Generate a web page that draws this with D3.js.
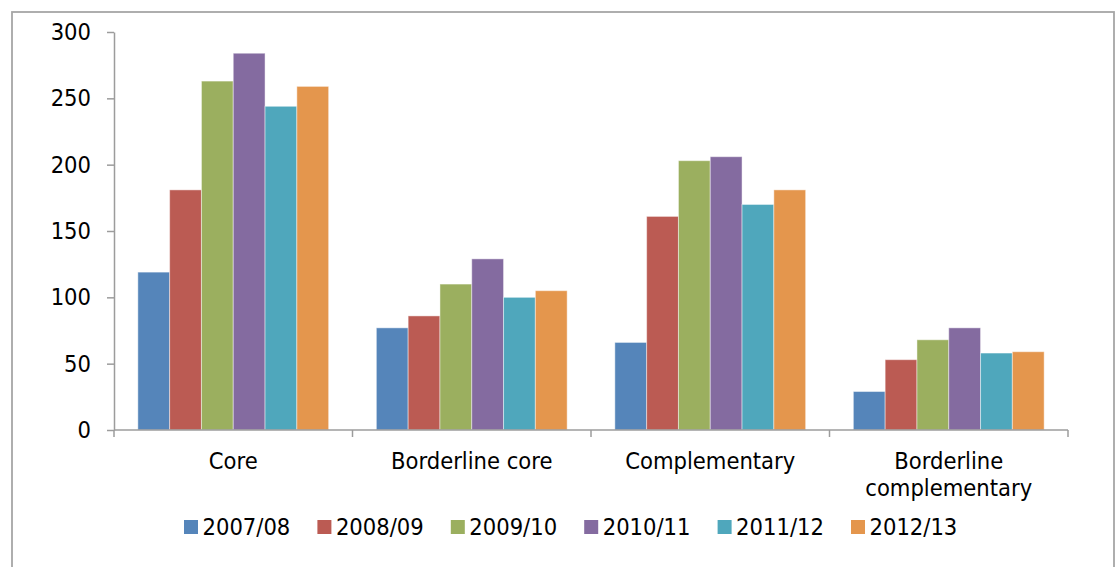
<!DOCTYPE html>
<html>
<head>
<meta charset="utf-8">
<script src="https://cdn.jsdelivr.net/npm/d3@7"></script>
<style>
  body { margin: 0; background: #fff; }
  svg { display: block; font-family: "DejaVu Sans Condensed", "DejaVu Sans", sans-serif; font-stretch: condensed; }
</style>
</head>
<body>
<svg id="chart" width="1120" height="567"></svg>
<script>
const categories = ["Core", "Borderline core", "Complementary", "Borderline complementary"];
const series = ["2007/08", "2008/09", "2009/10", "2010/11", "2011/12", "2012/13"];
const colors = ["#5585ba", "#bb5b53", "#9baf5f", "#846ba0", "#4fa7bc", "#e4964d"];

// one array per season, values in category order
const v0708 = [119, 77, 66, 29];
const v0809 = [181, 86, 161, 53];
const v0910 = [263, 110, 203, 68];
const v1011 = [284, 129, 206, 77];
const v1112 = [244, 100, 170, 58];
const v1213 = [259, 105, 181, 59];
const values = [v0708, v0809, v0910, v1011, v1112, v1213];

const yTicks = [0, 50, 100, 150, 200, 250, 300];

let fontSize = 23.5;
let svg = d3.select("#chart");

// outer chart frame
svg.append("rect")
  .attr("x", 12).attr("y", 12)
  .attr("width", 1102).attr("height", 600)
  .attr("fill", "none")
  .attr("stroke", "#a6a6a6")
  .attr("stroke-width", 1.8);

let x = d3.scaleBand().domain(categories).range([114, 1068]);
let xs = d3.scaleBand().domain(series).range([0, x.bandwidth()]).paddingOuter(0.75);
let y = d3.scaleLinear().domain([0, 300]).range([430, 32]);

// y axis
let yAxis = svg.append("g")
  .attr("transform", "translate(114,0)")
  .call(d3.axisLeft(y).tickValues(yTicks).tickSize(7).tickPadding(16).tickSizeOuter(0))
  .attr("font-family", null)
  .attr("font-size", null);
yAxis.select(".domain").attr("stroke", "#9c9c9c").attr("stroke-width", 1.5);
yAxis.selectAll(".tick line").attr("stroke", "#9c9c9c").attr("stroke-width", 1.5);
yAxis.selectAll(".tick text").attr("font-size", fontSize).attr("fill", "#000");

// bars
let groups = svg.append("g").selectAll("g")
  .data(series)
  .join("g")
  .attr("fill", (d, i) => colors[i]);

groups.selectAll("rect")
  .data((s, i) => categories.map((c, j) => ({ cat: c, s: s, v: values[i][j] })))
  .join("rect")
  .attr("x", d => x(d.cat) + xs(d.s))
  .attr("y", d => y(d.v))
  .attr("width", xs.bandwidth())
  .attr("height", d => y(0) - y(d.v))
  .attr("stroke", "rgba(255,255,255,0.45)")
  .attr("stroke-width", 1);

// x axis line with ticks at category boundaries
let xa = svg.append("g");
xa.append("line")
  .attr("x1", 114).attr("x2", 1068)
  .attr("y1", y(0)).attr("y2", y(0))
  .attr("stroke", "#9c9c9c").attr("stroke-width", 1.5);
xa.selectAll("line.tick")
  .data(categories.map(c => x(c)).concat([x.range()[1]]))
  .join("line")
  .attr("class", "tick")
  .attr("x1", d => d).attr("x2", d => d)
  .attr("y1", y(0)).attr("y2", y(0) + 7)
  .attr("stroke", "#9c9c9c").attr("stroke-width", 1.5);

// category labels (wrap long names onto two lines)
let labels = xa.selectAll("text")
  .data(categories)
  .join("text")
  .attr("x", d => x(d) + x.bandwidth() / 2)
  .attr("y", 469)
  .attr("text-anchor", "middle")
  .attr("font-size", fontSize)
  .attr("fill", "#000");
labels.each(function (d) {
  let t = d3.select(this);
  let parts = d.length > 20 ? d.split(" ") : [d];
  parts.forEach((p, k) => {
    t.append("tspan")
      .attr("x", x(d) + x.bandwidth() / 2)
      .attr("dy", k === 0 ? 0 : 27)
      .text(p);
  });
});

// legend
let legend = svg.append("g").selectAll("g")
  .data(series)
  .join("g")
  .attr("transform", (d, i) => `translate(${184 + i * 133.4},520)`);
legend.append("rect")
  .attr("width", 14).attr("height", 14)
  .attr("fill", (d, i) => colors[i]);
legend.append("text")
  .attr("x", 18.5).attr("y", 15)
  .attr("font-size", fontSize)
  .attr("fill", "#000")
  .text(d => d);
</script>
</body>
</html>
